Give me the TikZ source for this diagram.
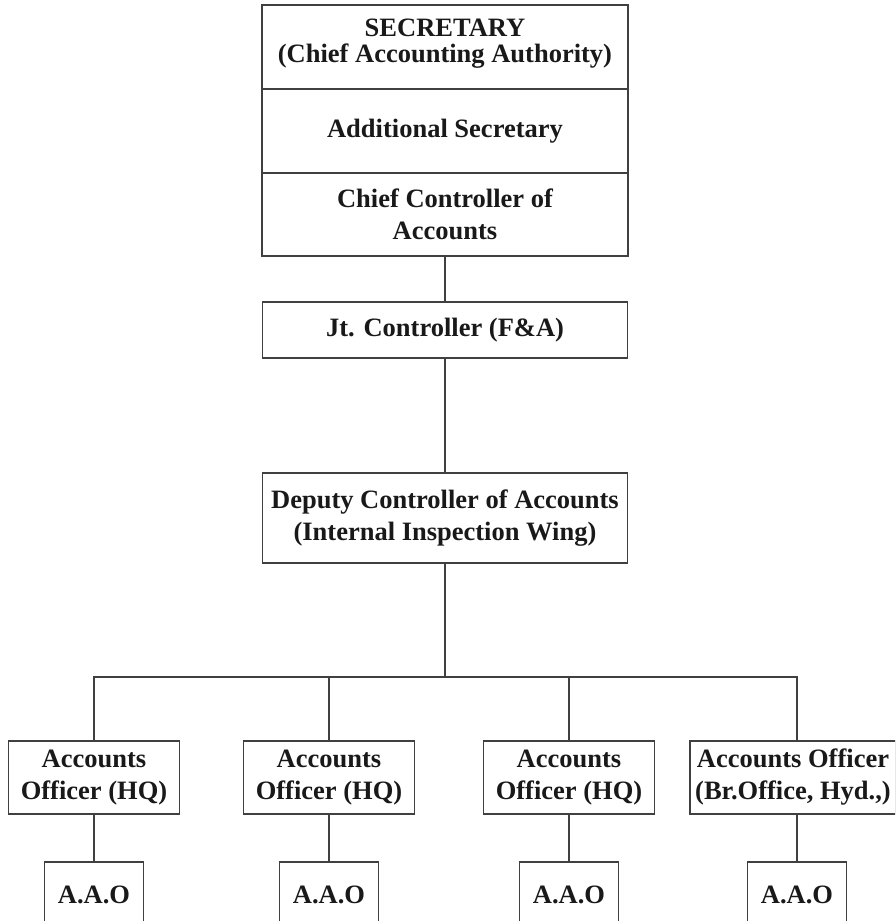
\documentclass[tikz,border=0pt]{standalone}
\usepackage{fontspec}
\setmainfont{Liberation Serif}
\usetikzlibrary{positioning}

\begin{document}
\begin{tikzpicture}[x=1pt, y=-1pt, line width=1.1pt, color=black!75,
	every node/.style={font=\fontsize{26.5}{32}\selectfont\bfseries, text=black!90},
	box/.style={draw, align=center, inner sep=0pt, outer sep=0pt},
	officer/.style={box, minimum width=171, minimum height=73},
	aao/.style={box, anchor=north, minimum width=99, minimum height=66}]
			% Fix the page to the size of the chart
			\path[use as bounding box] (0,0) rectangle (895,921);
			\clip (0,0) rectangle (895,921);

			% Top block of three stacked boxes
			\node[box, minimum width=366, minimum height=84] (sec) at (445,47) {SECRETARY\\[-6pt](Chief Accounting Authority)\\[-20pt]};
			\node[box, minimum width=366, minimum height=84, below=0pt of sec] (addl) {Additional Secretary};
			\node[box, minimum width=366, minimum height=83, below=0pt of addl] (cca) {Chief Controller of\\Accounts};

			% Controllers
			\node[box, minimum width=365, minimum height=56] (jt) at (445,330) {Jt. Controller (F\&A)};
			\node[box, minimum width=365, minimum height=90] (dep) at (445,518) {Deputy Controller of Accounts\\(Internal Inspection Wing)};
			\draw (cca.south) -- (jt.north);
			\draw (jt.south) -- (dep.north);

			% Bus line for the officers
			\coordinate (bus) at (445,677);
			\draw (dep.south) -- (bus);

			% Macro for one officer with its A.A.O below.
			% Usage: \officerbranch{name}{x}{Label}
			\newcommand{\officerbranch}[3]{
				\node[officer] (#1) at (#2,777.5) {#3};
				\node[aao] (#1aao) at (#2,862) {A.A.O};
				\draw (#1.south) -- (#1aao.north);
				\draw (#1.north) |- (bus);
			}

			\officerbranch{ao1}{94}{Accounts\\Officer (HQ)};
			\officerbranch{ao2}{329}{Accounts\\Officer (HQ)};
			\officerbranch{ao3}{569}{Accounts\\Officer (HQ)};
			\node[officer, minimum width=206] (ao4) at (793,777.5) {Accounts Officer\\(Br.Office, Hyd.,)};
			\node[aao] (ao4aao) at (797,862) {A.A.O};
			\draw (ao4aao.north |- ao4.south) -- (ao4aao.north);
			\draw (ao4aao.north |- ao4.north) |- (bus);
		\end{tikzpicture}
\end{document}
